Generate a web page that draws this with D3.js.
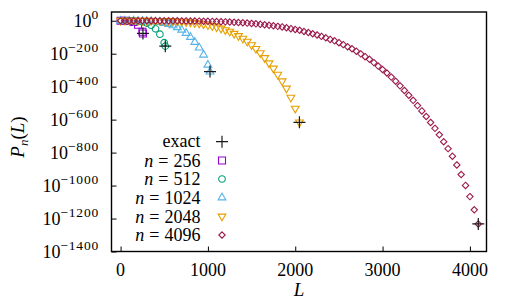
<!DOCTYPE html>
<html><head><meta charset="utf-8"><script src="https://cdn.jsdelivr.net/npm/d3@7"></script>
<style>
  @font-face { font-family: 'PlotSerif'; src: local('Liberation Serif'), local('LiberationSerif'), local('Tinos'); }
  @font-face { font-family: 'PlotSerif'; font-style: italic; src: local('Liberation Serif Italic'), local('LiberationSerif-Italic'), local('Tinos Italic'); }
  svg text { font-family: 'Liberation Serif', 'PlotSerif', 'Tinos', 'Times New Roman' !important; }
</style>
</head>
<body style="margin:0">
<script>
// sample positions L (shared by all series), last point of each series is L = n
const sampleL = [0,50,100,150,200,250,300,350,400,450,500,550,600,650,700,750,800,850,900,950,
  1000,1050,1100,1150,1200,1250,1300,1350,1400,1450,1500,1550,1600,1650,1700,1750,1800,1850,1900,1950,
  2000,2050,2100,2150,2200,2250,2300,2350,2400,2450,2500,2550,2600,2650,2700,2750,2800,2850,2900,2950,
  3000,3050,3100,3150,3200,3250,3300,3350,3400,3450,3500,3550,3600,3650,3700,3750,3800,3850,3900,3950,
  4000,4050];

const seriesN = [256, 512, 1024, 2048, 4096];

// log10 P_n(L)
const logP256 = [0,-0.1,-1.3,-7.1,-24.7,-66.7,-77.1];
const logP512 = [0,0,-0.2,-0.9,-2.7,-6.6,-14.2,-27.3,-49.3,-81.7,-133,-154.1];
const logP1024 = [0,0,0,-0.1,-0.3,-0.9,-1.7,-3.1,-5.4,-8.5,-13.3,-19.7,-28.4,-39.5,-54.6,-74,-98.6,-129,-163,-206,-267,-308.3];
const logP2048 = [0,0,0,0,-0.1,-0.1,-0.2,-0.4,-0.7,-1.2,-1.7,-2.5,-3.5,-4.7,-6.3,-8.3,-10.8,-13.7,-17.1,-21.3,
  -26.5,-32.7,-39.5,-47.5,-56.7,-66.6,-78.9,-92.5,-109,-127,-148,-171,-197,-226,-258,-290,-327,-367,-411,-467,-533,-616.5];
const logP4096 = [0,0,0,0,0,0,-0.1,-0.1,-0.1,-0.2,-0.3,-0.4,-0.5,-0.6,-0.9,-1.1,-1.4,-1.7,-2.3,-3.0,
  -3.5,-4.1,-5.1,-5.9,-6.9,-8.0,-9.5,-11,-12.6,-14.3,-16.5,-18.9,-21.6,-24.3,-27.5,-30.8,-34.2,-37.6,-42.5,-48.1,
  -53,-58,-65.3,-71.5,-78.9,-86.3,-94.9,-103.6,-113.4,-122,-133,-145,-158,-170,-185,-201,-218,-234,-254,-275,
  -296,-317,-342,-367,-395,-423,-452,-483,-515,-547,-581,-617,-653,-692,-734,-776,-822,-875,-933,-999,
  -1067,-1147,-1233];

const exactL = [256, 512, 1024, 2048, 4096];
const exactLogP = [-77.1, -154.1, -308.3, -616.5, -1233];

const xTicks = [0, 1000, 2000, 3000, 4000];
const yTicks = [0, -200, -400, -600, -800, -1000, -1200, -1400];

const colors = ['#9400d3', '#009e73', '#56b4e9', '#e69f00', '#9b1a4b'];

const FONT = "'Liberation Serif'";

const svg = d3.select('body').append('svg')
  .attr('width', 508)
  .attr('height', 308)
  .attr('font-family', 'Liberation Serif');

const frame = { left: 111.5, top: 12, right: 486.5, bottom: 251.5 };

const x = d3.scaleLinear().domain([-104, 4190]).range([frame.left, frame.right]);
const y = d3.scaleLinear().domain([-1400, 53]).range([frame.bottom, frame.top]);

// marker shapes
const shapes = [
  'M-3.5,-3.5H3.5V3.5H-3.5Z',
  'M3.3,0A3.3,3.3 0 1 1 -3.3,0A3.3,3.3 0 1 1 3.3,0Z',
  'M0,-4.3L3.9,2.4L-3.9,2.4Z',
  'M0,4.3L3.9,-2.4L-3.9,-2.4Z',
  'M0,-3.2L3.2,0L0,3.2L-3.2,0Z'
];
const plusPath = 'M-6,0H6M0,-6V6';

// axes: ticks only, labels drawn as plain text below
const xAxis = d3.axisBottom(x).tickValues(xTicks).tickFormat('')
  .tickSizeInner(-5).tickSizeOuter(0);
svg.append('g')
  .attr('transform', `translate(0,${frame.bottom})`)
  .call(xAxis)
  .call(g => g.select('.domain').remove())
  .call(g => g.selectAll('.tick line').attr('stroke', '#000'));

const yAxis = d3.axisLeft(y).tickValues(yTicks).tickFormat('')
  .tickSizeInner(-5).tickSizeOuter(0);
svg.append('g')
  .attr('transform', `translate(${frame.left},0)`)
  .call(yAxis)
  .call(g => g.select('.domain').remove())
  .call(g => g.selectAll('.tick line').attr('stroke', '#000'));

xTicks.forEach(d => {
  svg.append('text').attr('x', x(d)).attr('y', 275.5).attr('font-size', 18)
    .attr('text-anchor', 'middle').attr('font-family', 'Liberation Serif').style('font-family', FONT).text(d);
});

yTicks.forEach(d => {
  const t = svg.append('text').attr('x', 99).attr('y', y(d) + 6).attr('font-size', 18)
    .attr('text-anchor', 'end').attr('font-family', 'Liberation Serif').style('font-family', FONT);
  t.append('tspan').text('10');
  t.append('tspan').attr('dy', -8).attr('font-size', 13.5)
    .attr('letter-spacing', 0.8)
    .text(d === 0 ? '0' : '\u2212' + (-d));
});

// series
const seriesVals = [logP256, logP512, logP1024, logP2048, logP4096];
seriesVals.forEach((vals, i) => {
  const n = seriesN[i];
  const pts = vals.map((v, j) => ({ L: j < vals.length - 1 ? sampleL[j] : n, v: v }));
  svg.append('g').selectAll('path')
    .data(pts)
    .enter()
    .append('path')
    .attr('d', shapes[i])
    .attr('transform', d => `translate(${x(d.L)},${y(d.v)})`)
    .attr('fill', 'none')
    .attr('stroke', colors[i])
    .attr('stroke-width', 1.1);
});

// exact values
svg.append('g').selectAll('path')
  .data(exactL.map((L, i) => ({ L: L, v: exactLogP[i] })))
  .enter()
  .append('path')
  .attr('d', plusPath)
  .attr('transform', d => `translate(${x(d.L)},${y(d.v)})`)
  .attr('stroke', '#1a1a1a')
  .attr('stroke-width', 1.2);

// frame
svg.append('rect')
  .attr('x', frame.left).attr('y', frame.top)
  .attr('width', frame.right - frame.left).attr('height', frame.bottom - frame.top)
  .attr('fill', 'none').attr('stroke', '#000').attr('stroke-width', 1.4);

// legend
const legendRows = [141.7, 160.5, 179, 197.5, 216.5, 235];
svg.append('text').attr('x', 200.5).attr('y', legendRows[0] + 5).attr('font-size', 18)
  .attr('text-anchor', 'end').attr('font-family', 'Liberation Serif').style('font-family', FONT).text('exact');
svg.append('path').attr('d', plusPath)
  .attr('transform', `translate(222,${legendRows[0]})`)
  .attr('stroke', '#1a1a1a').attr('stroke-width', 1.2);
seriesN.forEach((n, i) => {
  const ry = legendRows[i + 1];
  const t = svg.append('text').attr('x', 200.5).attr('y', ry + 6).attr('font-size', 18)
    .attr('text-anchor', 'end').attr('font-family', 'Liberation Serif').style('font-family', FONT);
  t.append('tspan').attr('font-style', 'italic').text('n');
  t.append('tspan').attr('dx', 5).text('=');
  t.append('tspan').attr('dx', 5).text(n);
  svg.append('path').attr('d', shapes[i])
    .attr('transform', `translate(222,${ry})`)
    .attr('fill', 'none').attr('stroke', colors[i]).attr('stroke-width', 1.1);
});

// axis labels
svg.append('text').attr('x', 299).attr('y', 295.5).attr('font-size', 19)
  .attr('text-anchor', 'middle').attr('font-family', 'Liberation Serif').style('font-family', FONT)
  .attr('font-style', 'italic').text('L');

const yl = svg.append('text').attr('transform', 'translate(24,137) rotate(-90)').attr('font-size', 19)
  .attr('text-anchor', 'middle').attr('font-family', 'Liberation Serif').style('font-family', FONT);
yl.append('tspan').attr('font-style', 'italic').text('P');
yl.append('tspan').attr('font-style', 'italic').attr('font-size', 13).attr('dy', 4).text('n');
yl.append('tspan').attr('dy', -4).text('(');
yl.append('tspan').attr('font-style', 'italic').text('L');
yl.append('tspan').text(')');
</script>
</body>
</html>
